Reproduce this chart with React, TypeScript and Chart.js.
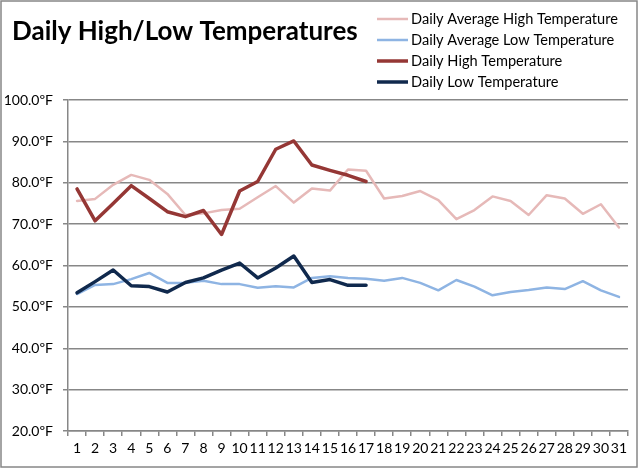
import { useEffect, useRef } from 'react';
import Chart from 'chart.js/auto';

// Days of the month
const days = ['1', '2', '3', '4', '5', '6', '7', '8', '9', '10', '11', '12', '13', '14', '15', '16',
    '17', '18', '19', '20', '21', '22', '23', '24', '25', '26', '27', '28', '29', '30', '31'];

// Monthly averages (whole month)
const avgHigh = [75.6, 76.1, 79.5, 81.9, 80.7, 77.3, 72.2, 72.6, 73.4, 73.7, 76.5, 79.2, 75.2, 78.6, 78.1, 83.2,
    82.9, 76.2, 76.8, 78.0, 75.8, 71.2, 73.4, 76.7, 75.6, 72.2, 77.0, 76.2, 72.5, 74.8, 69.2];
const avgLow = [53.1, 55.3, 55.5, 56.7, 58.2, 55.8, 55.8, 56.3, 55.5, 55.5, 54.6, 55.0, 54.7, 57.0, 57.4, 57.0,
    56.8, 56.3, 57.0, 55.8, 54.0, 56.5, 54.9, 52.8, 53.6, 54.1, 54.7, 54.3, 56.2, 54.0, 52.4];

// Observed so far (days 1-17)
const dailyHigh = [78.5, 70.8, 75.0, 79.3, 76.2, 73.0, 71.8, 73.3, 67.5, 78.0, 80.3, 88.1, 90.1, 84.3, 83.0, 81.8, 80.3];
const dailyLow = [53.4, 56.1, 58.9, 55.1, 54.9, 53.6, 55.9, 57.0, 58.9, 60.6, 57.0, 59.4, 62.3, 55.9, 56.6, 55.2, 55.2];

const GRID = '#878787';
const FONT = 'Lato';

// frame, title and legend drawn straight on the canvas
const decorPlugin = {
    id: 'decor',
    beforeDraw(chart: any) {
        const ctx = chart.ctx;
        ctx.save();
        ctx.fillStyle = '#fff';
        ctx.fillRect(0, 0, chart.width, chart.height);
        ctx.restore();
    },
    afterDraw(chart: any) {
        const ctx = chart.ctx;
        ctx.save();
        ctx.strokeStyle = GRID;
        ctx.lineWidth = 1.5;
        ctx.strokeRect(1, 1, 636, 466);

        ctx.fillStyle = '#000';
        ctx.textBaseline = 'middle';
        ctx.font = `bold 26px ${FONT}`;
        ctx.fillText('Daily High/Low Temperatures', 12, 32);

        ctx.font = `14.6px ${FONT}`;
        chart.data.datasets.forEach((ds: any, i: number) => {
            const y = 19 + i * 21;
            ctx.strokeStyle = ds.borderColor;
            ctx.lineWidth = ds.borderWidth;
            ctx.beginPath();
            ctx.moveTo(377, y);
            ctx.lineTo(408, y);
            ctx.stroke();
            ctx.fillStyle = '#000';
            ctx.fillText(ds.label, 411, y);
        });
        ctx.restore();
    }
};

export default function App() {
    const canvasRef = useRef<HTMLCanvasElement>(null);

    useEffect(() => {
        document.body.style.margin = '0';
        if (!canvasRef.current) return;

        const chart = new Chart(canvasRef.current, {
            type: 'line',
            data: {
                labels: days,
                datasets: [
                    { label: 'Daily Average High Temperature', data: avgHigh, borderColor: '#E6B9B8', borderWidth: 2.5, order: 1 },
                    { label: 'Daily Average Low Temperature', data: avgLow, borderColor: '#8EB4E3', borderWidth: 2.5, order: 1 },
                    { label: 'Daily High Temperature', data: dailyHigh, borderColor: '#953735', borderWidth: 3.5, order: 0 },
                    { label: 'Daily Low Temperature', data: dailyLow, borderColor: '#10294D', borderWidth: 3.5, order: 0 }
                ]
            },
            options: {
                responsive: false,
                animation: false,
                layout: { padding: { top: 100, right: 12, bottom: 0, left: 0 } },
                elements: {
                    point: { radius: 0, hoverRadius: 0 },
                    line: { tension: 0, borderJoinStyle: 'round', borderCapStyle: 'round' }
                },
                plugins: {
                    legend: { display: false },
                    title: { display: false },
                    tooltip: { enabled: false }
                },
                scales: {
                    x: {
                        offset: true,
                        afterFit: (scale: any) => { scale.height = 40; },
                        grid: { display: true, drawOnChartArea: false, drawTicks: true, tickLength: 5, offset: true, color: GRID, lineWidth: 1.5 },
                        border: { display: true, color: GRID, width: 1.5 },
                        ticks: { color: '#000', font: { family: FONT, size: 14 }, padding: 4, maxRotation: 0, autoSkip: false }
                    },
                    y: {
                        min: 20,
                        max: 100,
                        afterFit: (scale: any) => { scale.width = 68; },
                        grid: { color: GRID, lineWidth: 1.5, tickLength: 5 },
                        border: { display: true, color: GRID, width: 1.5 },
                        ticks: {
                            stepSize: 10,
                            color: '#000',
                            padding: 10,
                            font: { family: FONT, size: 14 },
                            callback: (v: any) => Number(v).toFixed(1) + 'ºF'
                        }
                    }
                }
            },
            plugins: [decorPlugin]
        });

        return () => chart.destroy();
    }, []);

    return (
        <div style={{ width: 640, height: 471 }}>
            <canvas ref={canvasRef} width={640} height={471} style={{ display: 'block' }}></canvas>
        </div>
    );
}
